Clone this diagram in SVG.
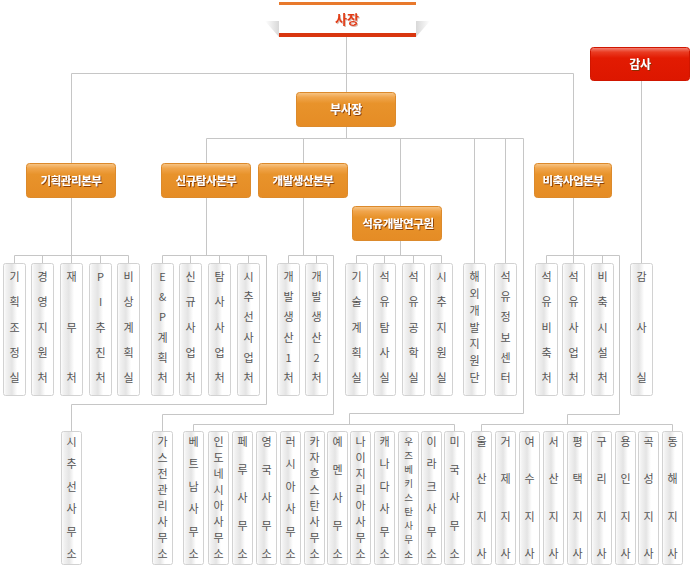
<svg xmlns="http://www.w3.org/2000/svg" width="692" height="568" viewBox="0 0 692 568">
<defs>
<linearGradient id="og" x1="0" y1="0" x2="0" y2="1">
<stop offset="0" stop-color="#f7c78a"/><stop offset="0.14" stop-color="#f0a54c"/><stop offset="0.32" stop-color="#e8932b"/><stop offset="1" stop-color="#e58c25"/>
</linearGradient>
<linearGradient id="rg" x1="0" y1="0" x2="0" y2="1">
<stop offset="0" stop-color="#f3867a"/><stop offset="0.14" stop-color="#ea3c22"/><stop offset="0.32" stop-color="#e21b02"/><stop offset="1" stop-color="#dd1700"/>
</linearGradient>
<linearGradient id="vg" x1="0" y1="0" x2="1" y2="0">
<stop offset="0" stop-color="#ffffff"/><stop offset="0.12" stop-color="#f2f2f2"/><stop offset="0.38" stop-color="#e4e4e4"/><stop offset="0.62" stop-color="#ffffff"/><stop offset="1" stop-color="#ffffff"/>
</linearGradient>
<linearGradient id="sl" x1="1" y1="0" x2="0" y2="0">
<stop offset="0" stop-color="#d8d8d8"/><stop offset="1" stop-color="#ffffff"/>
</linearGradient>
<linearGradient id="sr" x1="0" y1="0" x2="1" y2="0">
<stop offset="0" stop-color="#d8d8d8"/><stop offset="1" stop-color="#ffffff"/>
</linearGradient>
<filter id="sh" x="-20%" y="-40%" width="140%" height="180%">
<feDropShadow dx="1" dy="1" stdDeviation="0.6" flood-color="#7a3000" flood-opacity="0.85"/>
</filter>
<filter id="shr" x="-20%" y="-40%" width="140%" height="180%">
<feDropShadow dx="1" dy="1" stdDeviation="0.6" flood-color="#c8a090" flood-opacity="0.7"/>
</filter>
</defs>
<style>
.ln{stroke:#c6c6c6;stroke-width:1;fill:none}
.vb{fill:url(#vg);stroke:#d2d2d2;stroke-width:1}
.vt{font-family:"Noto Sans CJK KR","Noto Sans",sans-serif;font-size:11px;fill:#555555;text-anchor:middle}
.sm{font-size:9.5px}
.ob{fill:url(#og);stroke:#dc8a2c;stroke-width:1}
.rb{fill:url(#rg);stroke:#d01600;stroke-width:1}
.ot{font-family:"Noto Sans CJK KR","Noto Sans",sans-serif;font-size:11.5px;font-weight:bold;fill:#ffffff;text-anchor:middle;filter:url(#sh);letter-spacing:-0.4px}
</style>
<rect width="692" height="568" fill="#ffffff"/>

<g id="connectors">
<path class="ln" d="M346.5 37V92M71.5 163V73.5H573.5V163M346.5 127V138.5M206.5 163V138.5H523.5V413.5H349.5V424.5M303.5 138.5V163M400.5 138.5V206M474.5 138.5V263M505.5 138.5V263"/>
<path class="ln" d="M71.5 198V263M14.5 263V255.5H128.5V263M42.5 255.5V263M100.5 255.5V263"/>
<path class="ln" d="M206.5 198V255.5M162.5 263V255.5H266.5V404.5H71.5V431M190.5 255.5V263M219.5 255.5V263M248.5 255.5V263"/>
<path class="ln" d="M303.5 198V255.5M288.5 263V255.5H333.5V414.5H162.5V431M316.5 255.5V263"/>
<path class="ln" d="M400.5 241V255.5M356.5 263V255.5H441.5V263M384.5 255.5V263M413.5 255.5V263"/>
<path class="ln" d="M193.5 431V424.5H454.5V431"/>
<path class="ln" d="M573.5 198V263M546.5 263V255.5H619.5V414.5H567.5V424.5M602.5 255.5V263M481.5 431V424.5H672.5V431"/>
<path class="ln" d="M641.5 81V263"/>
</g>

<g id="president">
<polygon points="265,21 279,21 279,37" fill="url(#sl)"/>
<polygon points="430,21 416,21 416,37" fill="url(#sr)"/>
<rect x="279" y="2" width="137" height="35" fill="#ffffff"/>
<rect x="279" y="2" width="137" height="3" fill="#e8792c"/>
<rect x="279" y="33" width="137" height="4" fill="#d9360f"/>
<text x="347" y="23.5" font-family="'Noto Sans CJK KR','Noto Sans',sans-serif" font-size="13px" font-weight="bold" fill="#e23c14" text-anchor="middle" filter="url(#shr)">사장</text>
</g>
<g id="vice-president"><rect class="ob" x="296.5" y="92.5" width="99" height="34" rx="3"/><text class="ot" x="346" y="114" style="font-size:12px">부사장</text></g>
<g id="auditor"><rect class="rb" x="590.5" y="47.5" width="99" height="33" rx="3"/><text class="ot" x="640" y="69" style="font-size:12px">감사</text></g>
<g id="hq-planning"><rect class="ob" x="26.5" y="163.5" width="89" height="34" rx="3"/><text class="ot" x="71" y="185">기획관리본부</text></g>
<g id="hq-exploration"><rect class="ob" x="161.5" y="163.5" width="89" height="34" rx="3"/><text class="ot" x="206" y="185">신규탐사본부</text></g>
<g id="hq-production"><rect class="ob" x="258.5" y="163.5" width="89" height="34" rx="3"/><text class="ot" x="303" y="185">개발생산본부</text></g>
<g id="hq-stockpile"><rect class="ob" x="534.5" y="163.5" width="77" height="34" rx="3"/><text class="ot" x="573" y="185">비축사업본부</text></g>
<g id="research-institute"><rect class="ob" x="352.5" y="206.5" width="89" height="34" rx="3"/><text class="ot" x="398" y="228">석유개발연구원</text></g>

<g id="d01"><rect class="vb" x="3.5" y="263.5" width="22" height="132" rx="2"/><text class="vt"><tspan x="14.5" y="281">기</tspan><tspan x="14.5" y="306.3">획</tspan><tspan x="14.5" y="331.5">조</tspan><tspan x="14.5" y="356.8">정</tspan><tspan x="14.5" y="382">실</tspan></text></g>
<g id="d02"><rect class="vb" x="31.5" y="263.5" width="22" height="132" rx="2"/><text class="vt"><tspan x="42.5" y="281">경</tspan><tspan x="42.5" y="306.3">영</tspan><tspan x="42.5" y="331.5">지</tspan><tspan x="42.5" y="356.8">원</tspan><tspan x="42.5" y="382">처</tspan></text></g>
<g id="d03"><rect class="vb" x="60.5" y="263.5" width="22" height="132" rx="2"/><text class="vt"><tspan x="71.5" y="281">재</tspan><tspan x="71.5" y="331.5">무</tspan><tspan x="71.5" y="382">처</tspan></text></g>
<g id="d04"><rect class="vb" x="89.5" y="263.5" width="22" height="132" rx="2"/><text class="vt"><tspan x="100.5" y="281">P</tspan><tspan x="100.5" y="306.3">I</tspan><tspan x="100.5" y="331.5">추</tspan><tspan x="100.5" y="356.8">진</tspan><tspan x="100.5" y="382">처</tspan></text></g>
<g id="d05"><rect class="vb" x="117.5" y="263.5" width="22" height="132" rx="2"/><text class="vt"><tspan x="128.5" y="281">비</tspan><tspan x="128.5" y="306.3">상</tspan><tspan x="128.5" y="331.5">계</tspan><tspan x="128.5" y="356.8">획</tspan><tspan x="128.5" y="382">실</tspan></text></g>
<g id="d06"><rect class="vb" x="151.5" y="263.5" width="22" height="132" rx="2"/><text class="vt"><tspan x="162.5" y="281">E</tspan><tspan x="162.5" y="301.2">&amp;</tspan><tspan x="162.5" y="321.4">P</tspan><tspan x="162.5" y="341.6">계</tspan><tspan x="162.5" y="361.8">획</tspan><tspan x="162.5" y="382">처</tspan></text></g>
<g id="d07"><rect class="vb" x="179.5" y="263.5" width="22" height="132" rx="2"/><text class="vt"><tspan x="190.5" y="281">신</tspan><tspan x="190.5" y="306.3">규</tspan><tspan x="190.5" y="331.5">사</tspan><tspan x="190.5" y="356.8">업</tspan><tspan x="190.5" y="382">처</tspan></text></g>
<g id="d08"><rect class="vb" x="208.5" y="263.5" width="22" height="132" rx="2"/><text class="vt"><tspan x="219.5" y="281">탐</tspan><tspan x="219.5" y="306.3">사</tspan><tspan x="219.5" y="331.5">사</tspan><tspan x="219.5" y="356.8">업</tspan><tspan x="219.5" y="382">처</tspan></text></g>
<g id="d09"><rect class="vb" x="237.5" y="263.5" width="22" height="132" rx="2"/><text class="vt"><tspan x="248.5" y="281">시</tspan><tspan x="248.5" y="301.2">추</tspan><tspan x="248.5" y="321.4">선</tspan><tspan x="248.5" y="341.6">사</tspan><tspan x="248.5" y="361.8">업</tspan><tspan x="248.5" y="382">처</tspan></text></g>
<g id="d10"><rect class="vb" x="277.5" y="263.5" width="22" height="132" rx="2"/><text class="vt"><tspan x="288.5" y="281">개</tspan><tspan x="288.5" y="301.2">발</tspan><tspan x="288.5" y="321.4">생</tspan><tspan x="288.5" y="341.6">산</tspan><tspan x="288.5" y="361.8">1</tspan><tspan x="288.5" y="382">처</tspan></text></g>
<g id="d11"><rect class="vb" x="305.5" y="263.5" width="22" height="132" rx="2"/><text class="vt"><tspan x="316.5" y="281">개</tspan><tspan x="316.5" y="301.2">발</tspan><tspan x="316.5" y="321.4">생</tspan><tspan x="316.5" y="341.6">산</tspan><tspan x="316.5" y="361.8">2</tspan><tspan x="316.5" y="382">처</tspan></text></g>
<g id="d12"><rect class="vb" x="345.5" y="263.5" width="22" height="132" rx="2"/><text class="vt"><tspan x="356.5" y="281">기</tspan><tspan x="356.5" y="306.3">술</tspan><tspan x="356.5" y="331.5">계</tspan><tspan x="356.5" y="356.8">획</tspan><tspan x="356.5" y="382">실</tspan></text></g>
<g id="d13"><rect class="vb" x="373.5" y="263.5" width="22" height="132" rx="2"/><text class="vt"><tspan x="384.5" y="281">석</tspan><tspan x="384.5" y="306.3">유</tspan><tspan x="384.5" y="331.5">탐</tspan><tspan x="384.5" y="356.8">사</tspan><tspan x="384.5" y="382">실</tspan></text></g>
<g id="d14"><rect class="vb" x="402.5" y="263.5" width="22" height="132" rx="2"/><text class="vt"><tspan x="413.5" y="281">석</tspan><tspan x="413.5" y="306.3">유</tspan><tspan x="413.5" y="331.5">공</tspan><tspan x="413.5" y="356.8">학</tspan><tspan x="413.5" y="382">실</tspan></text></g>
<g id="d15"><rect class="vb" x="430.5" y="263.5" width="22" height="132" rx="2"/><text class="vt"><tspan x="441.5" y="281">시</tspan><tspan x="441.5" y="306.3">추</tspan><tspan x="441.5" y="331.5">지</tspan><tspan x="441.5" y="356.8">원</tspan><tspan x="441.5" y="382">실</tspan></text></g>
<g id="d16"><rect class="vb" x="463.5" y="263.5" width="22" height="132" rx="2"/><text class="vt"><tspan x="474.5" y="281">해</tspan><tspan x="474.5" y="297.8">외</tspan><tspan x="474.5" y="314.7">개</tspan><tspan x="474.5" y="331.5">발</tspan><tspan x="474.5" y="348.3">지</tspan><tspan x="474.5" y="365.2">원</tspan><tspan x="474.5" y="382">단</tspan></text></g>
<g id="d17"><rect class="vb" x="494.5" y="263.5" width="22" height="132" rx="2"/><text class="vt"><tspan x="505.5" y="281">석</tspan><tspan x="505.5" y="301.2">유</tspan><tspan x="505.5" y="321.4">정</tspan><tspan x="505.5" y="341.6">보</tspan><tspan x="505.5" y="361.8">센</tspan><tspan x="505.5" y="382">터</tspan></text></g>
<g id="d18"><rect class="vb" x="535.5" y="263.5" width="22" height="132" rx="2"/><text class="vt"><tspan x="546.5" y="281">석</tspan><tspan x="546.5" y="306.3">유</tspan><tspan x="546.5" y="331.5">비</tspan><tspan x="546.5" y="356.8">축</tspan><tspan x="546.5" y="382">처</tspan></text></g>
<g id="d19"><rect class="vb" x="562.5" y="263.5" width="22" height="132" rx="2"/><text class="vt"><tspan x="573.5" y="281">석</tspan><tspan x="573.5" y="306.3">유</tspan><tspan x="573.5" y="331.5">사</tspan><tspan x="573.5" y="356.8">업</tspan><tspan x="573.5" y="382">처</tspan></text></g>
<g id="d20"><rect class="vb" x="591.5" y="263.5" width="22" height="132" rx="2"/><text class="vt"><tspan x="602.5" y="281">비</tspan><tspan x="602.5" y="306.3">축</tspan><tspan x="602.5" y="331.5">시</tspan><tspan x="602.5" y="356.8">설</tspan><tspan x="602.5" y="382">처</tspan></text></g>
<g id="d21"><rect class="vb" x="630.5" y="263.5" width="22" height="132" rx="2"/><text class="vt"><tspan x="641.5" y="281">감</tspan><tspan x="641.5" y="331.5">사</tspan><tspan x="641.5" y="382">실</tspan></text></g>

<g id="o01"><rect class="vb" x="61.5" y="431.5" width="20" height="133" rx="2"/><text class="vt"><tspan x="71.5" y="445.5">시</tspan><tspan x="71.5" y="468">추</tspan><tspan x="71.5" y="490.5">선</tspan><tspan x="71.5" y="513">사</tspan><tspan x="71.5" y="535.5">무</tspan><tspan x="71.5" y="558">소</tspan></text></g>
<g id="o02"><rect class="vb" x="152.5" y="431.5" width="20" height="133" rx="2"/><text class="vt"><tspan x="162.5" y="445.5">가</tspan><tspan x="162.5" y="461.6">스</tspan><tspan x="162.5" y="477.6">전</tspan><tspan x="162.5" y="493.7">관</tspan><tspan x="162.5" y="509.8">리</tspan><tspan x="162.5" y="525.9">사</tspan><tspan x="162.5" y="541.9">무</tspan><tspan x="162.5" y="558">소</tspan></text></g>
<g id="o03"><rect class="vb" x="183.5" y="431.5" width="20" height="133" rx="2"/><text class="vt"><tspan x="193.5" y="445.5">베</tspan><tspan x="193.5" y="468">트</tspan><tspan x="193.5" y="490.5">남</tspan><tspan x="193.5" y="513">사</tspan><tspan x="193.5" y="535.5">무</tspan><tspan x="193.5" y="558">소</tspan></text></g>
<g id="o04"><rect class="vb" x="208.5" y="431.5" width="20" height="133" rx="2"/><text class="vt"><tspan x="218.5" y="445.5">인</tspan><tspan x="218.5" y="461.6">도</tspan><tspan x="218.5" y="477.6">네</tspan><tspan x="218.5" y="493.7">시</tspan><tspan x="218.5" y="509.8">아</tspan><tspan x="218.5" y="525.9">사</tspan><tspan x="218.5" y="541.9">무</tspan><tspan x="218.5" y="558">소</tspan></text></g>
<g id="o05"><rect class="vb" x="232.5" y="431.5" width="20" height="133" rx="2"/><text class="vt"><tspan x="242.5" y="445.5">페</tspan><tspan x="242.5" y="473.6">루</tspan><tspan x="242.5" y="501.8">사</tspan><tspan x="242.5" y="529.9">무</tspan><tspan x="242.5" y="558">소</tspan></text></g>
<g id="o06"><rect class="vb" x="256.5" y="431.5" width="20" height="133" rx="2"/><text class="vt"><tspan x="266.5" y="445.5">영</tspan><tspan x="266.5" y="473.6">국</tspan><tspan x="266.5" y="501.8">사</tspan><tspan x="266.5" y="529.9">무</tspan><tspan x="266.5" y="558">소</tspan></text></g>
<g id="o07"><rect class="vb" x="280.5" y="431.5" width="20" height="133" rx="2"/><text class="vt"><tspan x="290.5" y="445.5">러</tspan><tspan x="290.5" y="468">시</tspan><tspan x="290.5" y="490.5">아</tspan><tspan x="290.5" y="513">사</tspan><tspan x="290.5" y="535.5">무</tspan><tspan x="290.5" y="558">소</tspan></text></g>
<g id="o08"><rect class="vb" x="304.5" y="431.5" width="20" height="133" rx="2"/><text class="vt"><tspan x="314.5" y="445.5">카</tspan><tspan x="314.5" y="461.6">자</tspan><tspan x="314.5" y="477.6">흐</tspan><tspan x="314.5" y="493.7">스</tspan><tspan x="314.5" y="509.8">탄</tspan><tspan x="314.5" y="525.9">사</tspan><tspan x="314.5" y="541.9">무</tspan><tspan x="314.5" y="558">소</tspan></text></g>
<g id="o09"><rect class="vb" x="327.5" y="431.5" width="20" height="133" rx="2"/><text class="vt"><tspan x="337.5" y="445.5">예</tspan><tspan x="337.5" y="473.6">멘</tspan><tspan x="337.5" y="501.8">사</tspan><tspan x="337.5" y="529.9">무</tspan><tspan x="337.5" y="558">소</tspan></text></g>
<g id="o10"><rect class="vb" x="350.5" y="431.5" width="20" height="133" rx="2"/><text class="vt"><tspan x="360.5" y="445.5">나</tspan><tspan x="360.5" y="461.6">이</tspan><tspan x="360.5" y="477.6">지</tspan><tspan x="360.5" y="493.7">리</tspan><tspan x="360.5" y="509.8">아</tspan><tspan x="360.5" y="525.9">사</tspan><tspan x="360.5" y="541.9">무</tspan><tspan x="360.5" y="558">소</tspan></text></g>
<g id="o11"><rect class="vb" x="374.5" y="431.5" width="20" height="133" rx="2"/><text class="vt"><tspan x="384.5" y="445.5">캐</tspan><tspan x="384.5" y="468">나</tspan><tspan x="384.5" y="490.5">다</tspan><tspan x="384.5" y="513">사</tspan><tspan x="384.5" y="535.5">무</tspan><tspan x="384.5" y="558">소</tspan></text></g>
<g id="o12"><rect class="vb" x="398.5" y="431.5" width="20" height="133" rx="2"/><text class="vt sm"><tspan x="408.5" y="445">우</tspan><tspan x="408.5" y="459.1">즈</tspan><tspan x="408.5" y="473.1">베</tspan><tspan x="408.5" y="487.2">키</tspan><tspan x="408.5" y="501.3">스</tspan><tspan x="408.5" y="515.3">탄</tspan><tspan x="408.5" y="529.4">사</tspan><tspan x="408.5" y="543.4">무</tspan><tspan x="408.5" y="557.5">소</tspan></text></g>
<g id="o13"><rect class="vb" x="421.5" y="431.5" width="20" height="133" rx="2"/><text class="vt"><tspan x="431.5" y="445.5">이</tspan><tspan x="431.5" y="468">라</tspan><tspan x="431.5" y="490.5">크</tspan><tspan x="431.5" y="513">사</tspan><tspan x="431.5" y="535.5">무</tspan><tspan x="431.5" y="558">소</tspan></text></g>
<g id="o14"><rect class="vb" x="444.5" y="431.5" width="20" height="133" rx="2"/><text class="vt"><tspan x="454.5" y="445.5">미</tspan><tspan x="454.5" y="473.6">국</tspan><tspan x="454.5" y="501.8">사</tspan><tspan x="454.5" y="529.9">무</tspan><tspan x="454.5" y="558">소</tspan></text></g>

<g id="b01"><rect class="vb" x="471.5" y="431.5" width="20" height="133" rx="2"/><text class="vt"><tspan x="481.5" y="445.5">울</tspan><tspan x="481.5" y="483">산</tspan><tspan x="481.5" y="520.5">지</tspan><tspan x="481.5" y="558">사</tspan></text></g>
<g id="b02"><rect class="vb" x="495.5" y="431.5" width="20" height="133" rx="2"/><text class="vt"><tspan x="505.5" y="445.5">거</tspan><tspan x="505.5" y="483">제</tspan><tspan x="505.5" y="520.5">지</tspan><tspan x="505.5" y="558">사</tspan></text></g>
<g id="b03"><rect class="vb" x="519.5" y="431.5" width="20" height="133" rx="2"/><text class="vt"><tspan x="529.5" y="445.5">여</tspan><tspan x="529.5" y="483">수</tspan><tspan x="529.5" y="520.5">지</tspan><tspan x="529.5" y="558">사</tspan></text></g>
<g id="b04"><rect class="vb" x="543.5" y="431.5" width="20" height="133" rx="2"/><text class="vt"><tspan x="553.5" y="445.5">서</tspan><tspan x="553.5" y="483">산</tspan><tspan x="553.5" y="520.5">지</tspan><tspan x="553.5" y="558">사</tspan></text></g>
<g id="b05"><rect class="vb" x="567.5" y="431.5" width="20" height="133" rx="2"/><text class="vt"><tspan x="577.5" y="445.5">평</tspan><tspan x="577.5" y="483">택</tspan><tspan x="577.5" y="520.5">지</tspan><tspan x="577.5" y="558">사</tspan></text></g>
<g id="b06"><rect class="vb" x="591.5" y="431.5" width="20" height="133" rx="2"/><text class="vt"><tspan x="601.5" y="445.5">구</tspan><tspan x="601.5" y="483">리</tspan><tspan x="601.5" y="520.5">지</tspan><tspan x="601.5" y="558">사</tspan></text></g>
<g id="b07"><rect class="vb" x="615.5" y="431.5" width="20" height="133" rx="2"/><text class="vt"><tspan x="625.5" y="445.5">용</tspan><tspan x="625.5" y="483">인</tspan><tspan x="625.5" y="520.5">지</tspan><tspan x="625.5" y="558">사</tspan></text></g>
<g id="b08"><rect class="vb" x="638.5" y="431.5" width="20" height="133" rx="2"/><text class="vt"><tspan x="648.5" y="445.5">곡</tspan><tspan x="648.5" y="483">성</tspan><tspan x="648.5" y="520.5">지</tspan><tspan x="648.5" y="558">사</tspan></text></g>
<g id="b09"><rect class="vb" x="662.5" y="431.5" width="20" height="133" rx="2"/><text class="vt"><tspan x="672.5" y="445.5">동</tspan><tspan x="672.5" y="483">해</tspan><tspan x="672.5" y="520.5">지</tspan><tspan x="672.5" y="558">사</tspan></text></g>
</svg>
